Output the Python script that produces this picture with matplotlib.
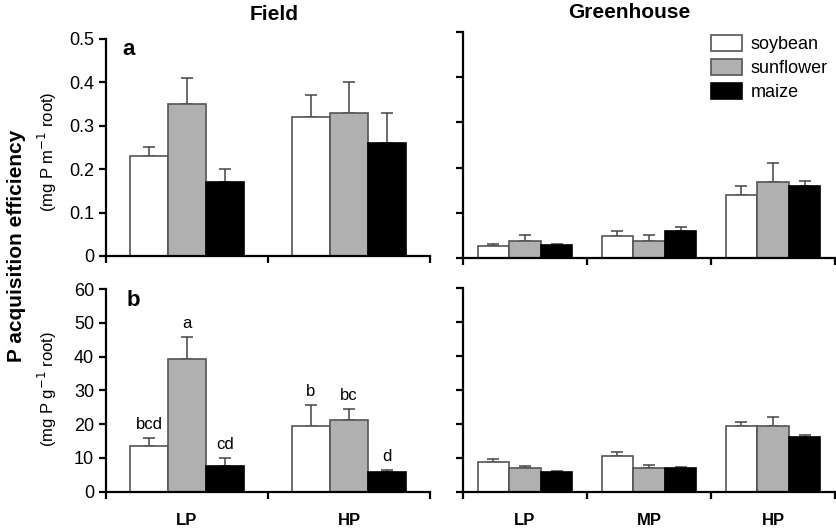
import numpy as np
import matplotlib
matplotlib.use("Agg")
import matplotlib.pyplot as plt

plt.rcParams['font.family'] = ['Liberation Sans', 'DejaVu Sans']

crops = ["soybean", "sunflower", "maize"]
field_levels = ["LP", "HP"]
gh_levels = ["LP", "MP", "HP"]

# panel a: mg P m-1 root
field_a = {"soybean": [0.23, 0.32], "sunflower": [0.35, 0.33], "maize": [0.17, 0.26]}
field_a_top = {"soybean": [0.25, 0.37], "sunflower": [0.41, 0.40], "maize": [0.20, 0.33]}
gh_a = {"soybean": [0.027, 0.049, 0.139], "sunflower": [0.038, 0.038, 0.169], "maize": [0.028, 0.060, 0.160]}
gh_a_top = {"soybean": [0.032, 0.059, 0.16], "sunflower": [0.050, 0.050, 0.21], "maize": [0.032, 0.069, 0.17]}

# panel b: mg P g-1 root
field_b = {"soybean": [13.6, 19.4], "sunflower": [39.4, 21.1], "maize": [7.7, 5.7]}
field_b_top = {"soybean": [15.8, 25.6], "sunflower": [45.9, 24.4], "maize": [9.9, 6.3]}
gh_b = {"soybean": [8.8, 10.8, 19.6], "sunflower": [7.1, 7.1, 19.6], "maize": [6.0, 7.2, 16.3]}
gh_b_top = {"soybean": [9.8, 11.8, 20.8], "sunflower": [7.8, 8.1, 22.0], "maize": [6.2, 7.4, 16.9]}

letters_b = {"soybean": ["bcd", "b"], "sunflower": ["a", "bc"], "maize": ["cd", "d"]}

colors = {"soybean": "white", "sunflower": "#b0b0b0", "maize": "black"}
edges = {"soybean": "#555555", "sunflower": "#555555", "maize": "black"}

fig = plt.figure(figsize=(8.36, 5.31), dpi=100)
ax_a1 = fig.add_axes([0.1268, 0.5179, 0.3876, 0.4087])
ax_a2 = fig.add_axes([0.5538, 0.5141, 0.445, 0.4256])
ax_b1 = fig.add_axes([0.1268, 0.0740, 0.3876, 0.3817])
ax_b2 = fig.add_axes([0.5538, 0.0729, 0.445, 0.3842])


def draw(ax, vals, tops, levels, width, ymax, labels=None):
    x = np.arange(len(levels))
    for i, c in enumerate(crops):
        xs = x + (i - 1) * width
        v = np.array(vals[c])
        e = np.array(tops[c]) - v
        ax.bar(xs, v, width, color=colors[c], edgecolor=edges[c], linewidth=1.2,
               label=c, zorder=2)
        ax.errorbar(xs, v, yerr=[np.zeros_like(v), e], fmt='none', ecolor='#444444',
                    elinewidth=1.1, capsize=4.5, capthick=1.1, zorder=1)
        if labels is not None:
            for xx, t, lab in zip(xs, tops[c], labels[c]):
                ax.text(xx, t + ymax * 0.03, lab, ha='center', va='bottom', fontsize=12)
    ax.set_xlim(-0.5, len(levels) - 0.5)
    ax.set_ylim(0, ymax)
    ax.set_xticks(np.arange(len(levels) + 1) - 0.5)
    ax.set_xticklabels([])
    for s in ['top', 'right']:
        ax.spines[s].set_visible(False)
    for s in ['left', 'bottom']:
        ax.spines[s].set_linewidth(1.6)
    ax.tick_params(axis='both', direction='out', width=1.6, length=5, labelsize=13)


draw(ax_a1, field_a, field_a_top, field_levels, 0.235, 0.5)
draw(ax_a2, gh_a, gh_a_top, gh_levels, 0.255, 0.5)
draw(ax_b1, field_b, field_b_top, field_levels, 0.235, 60, labels=letters_b)
draw(ax_b2, gh_b, gh_b_top, gh_levels, 0.255, 60)

ax_a1.set_yticks([0, 0.1, 0.2, 0.3, 0.4, 0.5])
ax_a1.set_yticklabels(["0", "0.1", "0.2", "0.3", "0.4", "0.5"])
ax_a2.set_yticks([0, 0.1, 0.2, 0.3, 0.4, 0.5])
ax_a2.set_yticklabels([])
ax_b1.set_yticks(range(0, 61, 10))
ax_b2.set_yticks(range(0, 61, 10))
ax_b2.set_yticklabels([])

for ax, levels in [(ax_b1, field_levels), (ax_b2, gh_levels)]:
    for i, lev in enumerate(levels):
        ax.text(i, -0.14, lev, transform=ax.get_xaxis_transform(), ha='center',
                va='center', fontsize=12, fontweight='bold')

ax_a1.text(0.05, 1.0, "a", transform=ax_a1.transAxes, fontsize=16, fontweight='bold',
           va='top')
ax_b1.text(0.065, 0.995, "b", transform=ax_b1.transAxes, fontsize=16, fontweight='bold',
           va='top')

fig.text(274 / 836, 1 - 15 / 531, "Field", ha='center', va='center', fontsize=15,
         fontweight='bold')
fig.text(629 / 836, 1 - 13 / 531, "Greenhouse", ha='center', va='center', fontsize=15,
         fontweight='bold')
fig.text(17 / 836, 1 - 246 / 531, "P acquisition efficiency", rotation=90, ha='center',
         va='center', fontsize=15, fontweight='bold')
fig.text(47 / 836, 1 - 152 / 531, "(mg P m$^{-1}$ root)", rotation=90, ha='center',
         va='center', fontsize=12)
fig.text(47 / 836, 1 - 389 / 531, "(mg P g$^{-1}$ root)", rotation=90, ha='center',
         va='center', fontsize=12)

ax_a2.legend(loc='upper right', bbox_to_anchor=(1.025, 1.06), frameon=False, fontsize=13,
             handlelength=1.7, handleheight=1.05, handletextpad=0.5, labelspacing=0.3)

fig.savefig("out.png", dpi=100)
